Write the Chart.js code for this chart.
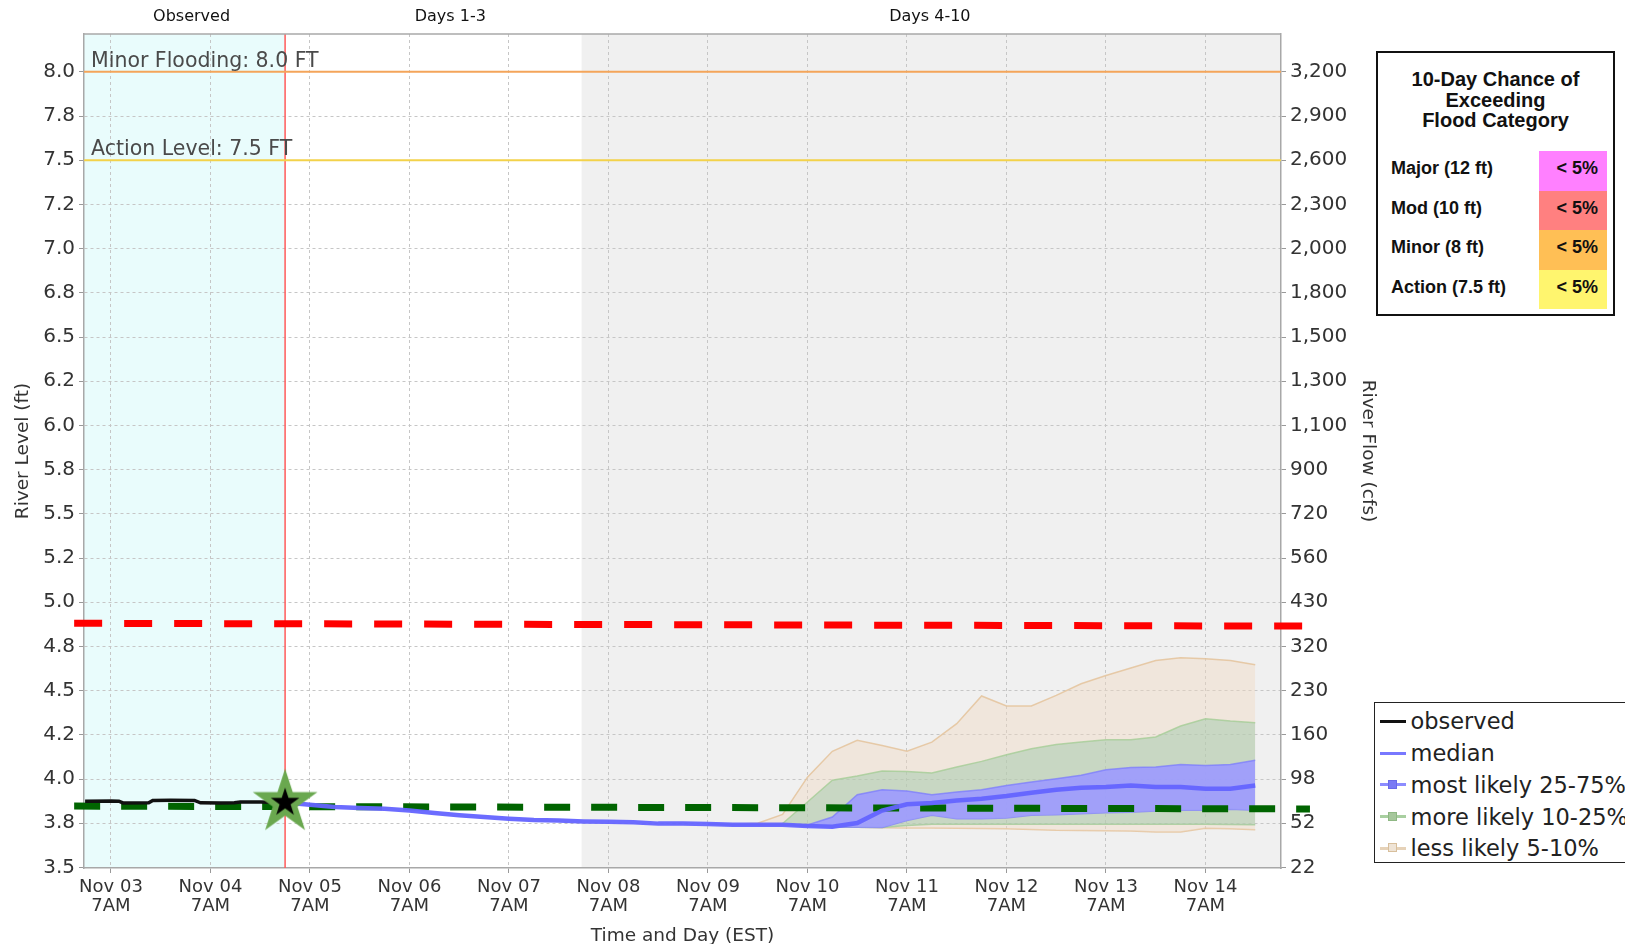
<!DOCTYPE html>
<html>
<head>
<meta charset="utf-8">
<script src="https://cdn.jsdelivr.net/npm/chart.js@4.4.1/dist/chart.umd.min.js"></script>
<style>
  html, body { margin: 0; padding: 0; background: #fff; }
  #wrap { position: relative; width: 1625px; height: 944px; overflow: hidden; }
  #chart { position: absolute; left: 0; top: 0; }
  #flood { position: absolute; left: 1376px; top: 51px; width: 239px; height: 265px;
           border: 2px solid #111; box-sizing: border-box; background: #fff;
           font-family: 'Liberation Sans', Arial, sans-serif; color: #111; }
  #flood .title { position: absolute; left: 0; right: 0; top: 16px; text-align: center;
                  font-weight: bold; font-size: 20px; line-height: 20.7px; }
  #flood .row { position: absolute; left: 0; right: 0; height: 39.5px; }
  #flood .name { position: absolute; left: 13px; top: -2px; line-height: 39.5px; font-weight: bold; font-size: 18px; }
  #flood .cell { position: absolute; left: 161px; width: 68px; top: 0; height: 39.5px; line-height: 35.5px;
                 text-align: right; box-sizing: border-box; padding-right: 9px; font-weight: bold; font-size: 18px; }
  #legend { position: absolute; left: 1374px; top: 702px; width: 262px; height: 161px;
            border: 1.5px solid #222; box-sizing: border-box; background: #fff; padding-top: 2.5px;
            font-family: 'DejaVu Sans', sans-serif; font-size: 22.5px; color: #222; }
  #legend .item { height: 31.75px; display: flex; align-items: center; }
  #legend .sym { position: relative; width: 26px; height: 3px; margin-left: 4.5px; margin-right: 5px; flex: none; }
  #legend .sq { position: absolute; left: 8.5px; top: -3.5px; width: 9px; height: 9px; box-sizing: border-box; }
</style>
</head>
<body>
<div id="wrap">
  <canvas id="chart" width="1625" height="944"></canvas>
  <div id="flood"></div>
  <div id="legend"></div>
</div>
<script>
// axis ticks: river level (ft) and the matching flow (cfs) at the same positions
const levelTicks = [3.5, 3.75, 4.0, 4.25, 4.5, 4.75, 5.0, 5.25, 5.5, 5.75, 6.0, 6.25, 6.5, 6.75, 7.0, 7.25, 7.5, 7.75, 8.0];
const levelLabels = ['3.5', '3.8', '4.0', '4.2', '4.5', '4.8', '5.0', '5.2', '5.5', '5.8', '6.0', '6.2', '6.5', '6.8', '7.0', '7.2', '7.5', '7.8', '8.0'];
const flowLabels = ['22', '52', '98', '160', '230', '320', '430', '560', '720', '900', '1,100', '1,300', '1,500', '1,800', '2,000', '2,300', '2,600', '2,900', '3,200'];
// x is in days after Nov 03 7AM
const dayLabels = ['Nov 03', 'Nov 04', 'Nov 05', 'Nov 06', 'Nov 07', 'Nov 08', 'Nov 09', 'Nov 10', 'Nov 11', 'Nov 12', 'Nov 13', 'Nov 14'];

const nowDay = 1.75;        // forecast issue time (red line)
const longRangeDay = 4.73;  // start of days 4-10

const observedDays  = [-0.26, 0.0, 0.08, 0.12, 0.38, 0.42, 0.6, 0.84, 0.9, 1.1, 1.24, 1.3, 1.5, 1.75];
const observedLevel = [3.875, 3.876, 3.875, 3.865, 3.866, 3.879, 3.880, 3.879, 3.866, 3.865, 3.866, 3.870, 3.870, 3.868];

const medianDays  = [1.75, 2.0, 2.25, 2.5, 2.75, 3.0, 3.25, 3.5, 3.75, 4.0, 4.25, 4.5, 4.75, 5.0, 5.25, 5.5, 5.75, 6.0,
                     6.25, 6.5, 6.75, 7.0, 7.25, 7.5, 7.75, 8.0, 8.25, 8.5, 8.75, 9.0, 9.25, 9.5, 9.75, 10.0, 10.25, 10.5, 10.75, 11.0, 11.25, 11.5];
const medianLevel = [3.868, 3.855, 3.842, 3.836, 3.832, 3.822, 3.808, 3.796, 3.785, 3.776, 3.768, 3.765, 3.760, 3.758, 3.756, 3.748, 3.748, 3.746,
                     3.742, 3.742, 3.742, 3.735, 3.730, 3.751, 3.822, 3.857, 3.864, 3.879, 3.889, 3.904, 3.923, 3.940, 3.951, 3.955, 3.964, 3.955, 3.955, 3.945, 3.945, 3.964];

const bandDays = [6.0, 6.25, 6.5, 6.75, 7.0, 7.25, 7.5, 7.75, 8.0, 8.25, 8.5, 8.75, 9.0, 9.25, 9.5, 9.75, 10.0, 10.25, 10.5, 10.75, 11.0, 11.25, 11.5];
const p95 = [3.746, 3.745, 3.750, 3.800, 4.011, 4.157, 4.219, 4.190, 4.157, 4.209, 4.313, 4.470, 4.413, 4.413, 4.473, 4.539, 4.586, 4.628, 4.671, 4.686, 4.681, 4.671, 4.647];
const p90 = [3.746, 3.742, 3.742, 3.748, 3.870, 3.993, 4.017, 4.045, 4.043, 4.034, 4.068, 4.100, 4.138, 4.172, 4.196, 4.209, 4.223, 4.223, 4.238, 4.300, 4.341, 4.328, 4.319];
const p75 = [3.746, 3.742, 3.742, 3.742, 3.740, 3.785, 3.911, 3.940, 3.932, 3.911, 3.927, 3.940, 3.964, 3.983, 4.002, 4.021, 4.053, 4.066, 4.068, 4.083, 4.077, 4.083, 4.106];
const p25 = [3.746, 3.742, 3.742, 3.742, 3.733, 3.729, 3.728, 3.726, 3.766, 3.795, 3.776, 3.776, 3.780, 3.795, 3.798, 3.804, 3.810, 3.813, 3.819, 3.823, 3.823, 3.829, 3.823];
const p10 = [3.746, 3.742, 3.742, 3.742, 3.733, 3.729, 3.728, 3.726, 3.738, 3.745, 3.745, 3.745, 3.744, 3.744, 3.744, 3.745, 3.745, 3.745, 3.745, 3.744, 3.744, 3.743, 3.742];
const p5  = [3.746, 3.742, 3.742, 3.742, 3.733, 3.729, 3.727, 3.724, 3.723, 3.723, 3.722, 3.721, 3.719, 3.715, 3.710, 3.709, 3.708, 3.706, 3.700, 3.700, 3.722, 3.719, 3.714];

// dashed reference lines (start / end)
const redLineDays = [-0.37, 12.05];
const redLineLevel = [4.881, 4.865];
const greenLineDays = [-0.37, 12.05];
const greenLineLevel = [3.847, 3.831];

const thresholdLevels = [8.0, 7.5];
const thresholdNames = ['Minor Flooding: 8.0 FT', 'Action Level: 7.5 FT'];
const thresholdColors = ['#f4a55a', '#f3d24a'];

const floodCats = ['Major (12 ft)', 'Mod (10 ft)', 'Minor (8 ft)', 'Action (7.5 ft)'];
const floodChance = ['< 5%', '< 5%', '< 5%', '< 5%'];
const floodColors = ['#ff80ff', '#ff8080', '#ffbf55', '#fff56e'];

const xMin = -0.271, xMax = 11.759;
const yMin = 3.497, yMax = 8.214;

function pts(xs, ys) {
    return xs.map((x, i) => ({x: x, y: ys[i]}));
}

function starImage() {
    const c = document.createElement('canvas');
    c.width = 72; c.height = 72;
    const g = c.getContext('2d');
    function path(ro, ri) {
        g.beginPath();
        for (let i = 0; i < 10; i++) {
            const r = i % 2 ? ri : ro;
            const a = -Math.PI / 2 + i * Math.PI / 5;
            g.lineTo(36 + r * Math.cos(a), 36 + r * Math.sin(a));
        }
        g.closePath();
    }
    path(34, 13); g.fillStyle = '#6aa84f'; g.fill();
    path(15, 5.8); g.fillStyle = '#000'; g.fill();
    return c;
}

const backdrop = {
    id: 'backdrop',
    beforeDraw(chart) {
        const {ctx, chartArea: a, scales: {x}} = chart;
        const xNow = x.getPixelForValue(nowDay);
        const xLong = x.getPixelForValue(longRangeDay);
        ctx.save();
        ctx.fillStyle = '#e9fcfc';
        ctx.fillRect(a.left, a.top, xNow - a.left, a.height);
        ctx.fillStyle = '#f0f0f0';
        ctx.fillRect(xLong, a.top, a.right - xLong, a.height);
        ctx.restore();
    },
    beforeDatasetsDraw(chart) {
        const {ctx, chartArea: a, scales: {x}} = chart;
        const xNow = x.getPixelForValue(nowDay);
        ctx.save();
        ctx.strokeStyle = '#ff5a5a';
        ctx.lineWidth = 1.5;
        ctx.beginPath();
        ctx.moveTo(xNow, a.top);
        ctx.lineTo(xNow, a.bottom);
        ctx.stroke();
        ctx.restore();
    },
    afterDraw(chart) {
        const {ctx, chartArea: a, scales: {x, y}} = chart;
        ctx.save();
        // top border of the plot
        ctx.strokeStyle = '#a8a8a8';
        ctx.lineWidth = 1.5;
        ctx.beginPath();
        ctx.moveTo(a.left, a.top);
        ctx.lineTo(a.right, a.top);
        ctx.stroke();

        ctx.font = '20.5px "DejaVu Sans"';
        ctx.fillStyle = '#4a4a4a';
        ctx.textAlign = 'left';
        ctx.textBaseline = 'alphabetic';
        thresholdLevels.forEach((lv, i) => {
            ctx.fillText(thresholdNames[i], a.left + 7, y.getPixelForValue(lv) - 5);
        });

        ctx.font = '16px "DejaVu Sans"';
        ctx.fillStyle = '#111';
        ctx.textAlign = 'center';
        ctx.textBaseline = 'middle';
        ctx.fillText('Observed', x.getPixelForValue(0.81), 17);
        ctx.fillText('Days 1-3', x.getPixelForValue(3.41), 17);
        ctx.fillText('Days 4-10', x.getPixelForValue(8.23), 17);
        ctx.restore();
    }
};

function levelAxis(pos, labels, width, titleText, titlePad) {
    return {
        type: 'linear',
        position: pos,
        min: yMin,
        max: yMax,
        afterBuildTicks: s => { s.ticks = levelTicks.map(v => ({value: v})); },
        afterFit: s => { s.width = width; },
        ticks: {
            callback: v => labels[levelTicks.indexOf(v)],
            font: {size: 20},
            color: '#333',
            padding: 4
        },
        grid: {
            drawOnChartArea: pos === 'left',
            color: '#c6c6c6',
            lineWidth: 1,
            tickLength: 5,
            tickColor: '#999',
            tickBorderDash: []
        },
        border: {color: '#a8a8a8', width: 1.5, dash: [3, 3]},
        title: {display: true, text: titleText, font: {size: 18.5}, color: '#333', padding: {top: titlePad, bottom: 0}}
    };
}

const lineBase = {pointRadius: 0, fill: false, tension: 0};

const chart = new Chart(document.getElementById('chart'), {
    type: 'line',
    data: {
        datasets: [
            {...lineBase, label: 'star', data: pts([nowDay], [3.867]), pointStyle: starImage(), pointRadius: 10, showLine: false, order: -1},
            {...lineBase, label: 'observed', data: pts(observedDays, observedLevel), borderColor: '#111', borderWidth: 3.5, order: 0},
            {...lineBase, label: 'median', data: pts(medianDays, medianLevel), borderColor: 'rgba(100,100,255,0.95)', borderWidth: 4.5, order: 1},
            {...lineBase, label: 'red', data: pts(redLineDays, redLineLevel), borderColor: '#ff0000', borderWidth: 7, borderDash: [28, 22], clip: false, order: 2},
            {...lineBase, label: 'green', data: pts(greenLineDays, greenLineLevel), borderColor: '#006400', borderWidth: 7, borderDash: [26, 21], clip: false, order: 2},
            {...lineBase, label: 'p75', data: pts(bandDays, p75), borderColor: 'rgba(120,120,255,0.7)', borderWidth: 1.5, fill: '+1', backgroundColor: 'rgba(156,154,255,0.9)', order: 3},
            {...lineBase, label: 'p25', data: pts(bandDays, p25), borderColor: 'rgba(120,120,255,0.7)', borderWidth: 1.5, order: 3},
            {...lineBase, label: 'p90', data: pts(bandDays, p90), borderColor: 'rgba(165,205,150,0.8)', borderWidth: 1.5, fill: '+1', backgroundColor: 'rgba(160,200,170,0.5)', order: 4},
            {...lineBase, label: 'p10', data: pts(bandDays, p10), borderColor: 'rgba(165,205,150,0.8)', borderWidth: 1.5, order: 4},
            {...lineBase, label: 'p95', data: pts(bandDays, p95), borderColor: 'rgba(228,195,155,0.85)', borderWidth: 1.5, fill: '+1', backgroundColor: 'rgba(240,215,190,0.4)', order: 5},
            {...lineBase, label: 'p5', data: pts(bandDays, p5), borderColor: 'rgba(228,195,155,0.85)', borderWidth: 1.5, order: 5},
            {...lineBase, label: 'minor', data: pts([xMin, xMax], [thresholdLevels[0], thresholdLevels[0]]), borderColor: thresholdColors[0], borderWidth: 2, order: 6},
            {...lineBase, label: 'action', data: pts([xMin, xMax], [thresholdLevels[1], thresholdLevels[1]]), borderColor: thresholdColors[1], borderWidth: 2, order: 6}
        ]
    },
    options: {
        responsive: false,
        animation: false,
        devicePixelRatio: 1,
        layout: {padding: {top: 34, left: 0, right: 244, bottom: 0}},
        font: {family: '"DejaVu Sans", sans-serif'},
        plugins: {legend: {display: false}, tooltip: {enabled: false}},
        scales: {
            x: {
                type: 'linear',
                min: xMin,
                max: xMax,
                afterBuildTicks: s => { s.ticks = dayLabels.map((d, i) => ({value: i})); },
                afterFit: s => { s.height = 76; },
                ticks: {
                    callback: v => [dayLabels[v], '7AM'],
                    font: {size: 18, lineHeight: 1.1},
                    color: '#333',
                    maxRotation: 0,
                    autoSkip: false,
                    padding: 4
                },
                grid: {color: '#c6c6c6', lineWidth: 1, tickLength: 5, tickColor: '#999', tickBorderDash: []},
                border: {color: '#a8a8a8', width: 1.5, dash: [3, 3]},
                title: {display: true, text: 'Time and Day (EST)', font: {size: 18.5, lineHeight: 0.8}, color: '#333', padding: {top: 0, bottom: 0}}
            },
            y: levelAxis('left', levelLabels, 84, 'River Level (ft)', 12),
            y2: levelAxis('right', flowLabels, 100, 'River Flow (cfs)', 2)
        }
    },
    plugins: [backdrop]
});

// flood category table
const flood = document.getElementById('flood');
flood.innerHTML = '<div class="title">10-Day Chance of<br>Exceeding<br>Flood Category</div>';
floodCats.forEach((name, i) => {
    const row = document.createElement('div');
    row.className = 'row';
    row.style.top = (98 + i * 39.5) + 'px';
    row.innerHTML = '<span class="name">' + name + '</span><span class="cell" style="background:' +
        floodColors[i] + '">' + floodChance[i].replace('<', '&lt;') + '</span>';
    flood.appendChild(row);
});

// series legend
const legendNames = ['observed', 'median', 'most likely 25-75%', 'more likely 10-25%', 'less likely 5-10%'];
const legendLines = ['#111', '#7878ff', '#8c8cff', '#a8cfa0', '#e6d2b8'];
const legendBoxes = [null, null, '#7a7af5', '#a6c79c', '#efe4d6'];
const legendBoxEdge = [null, null, '#6a6ae8', '#8fb884', '#d8bf9c'];
const legend = document.getElementById('legend');
legendNames.forEach((name, i) => {
    const item = document.createElement('div');
    item.className = 'item';
    let sym = '<span class="sym" style="background:' + legendLines[i] + '">';
    if (legendBoxes[i]) {
        sym += '<span class="sq" style="background:' + legendBoxes[i] + ';border:1px solid ' + legendBoxEdge[i] + '"></span>';
    }
    sym += '</span>';
    item.innerHTML = sym + '<span style="white-space:nowrap">' + name + '</span>';
    legend.appendChild(item);
});
</script>
</body>
</html>
